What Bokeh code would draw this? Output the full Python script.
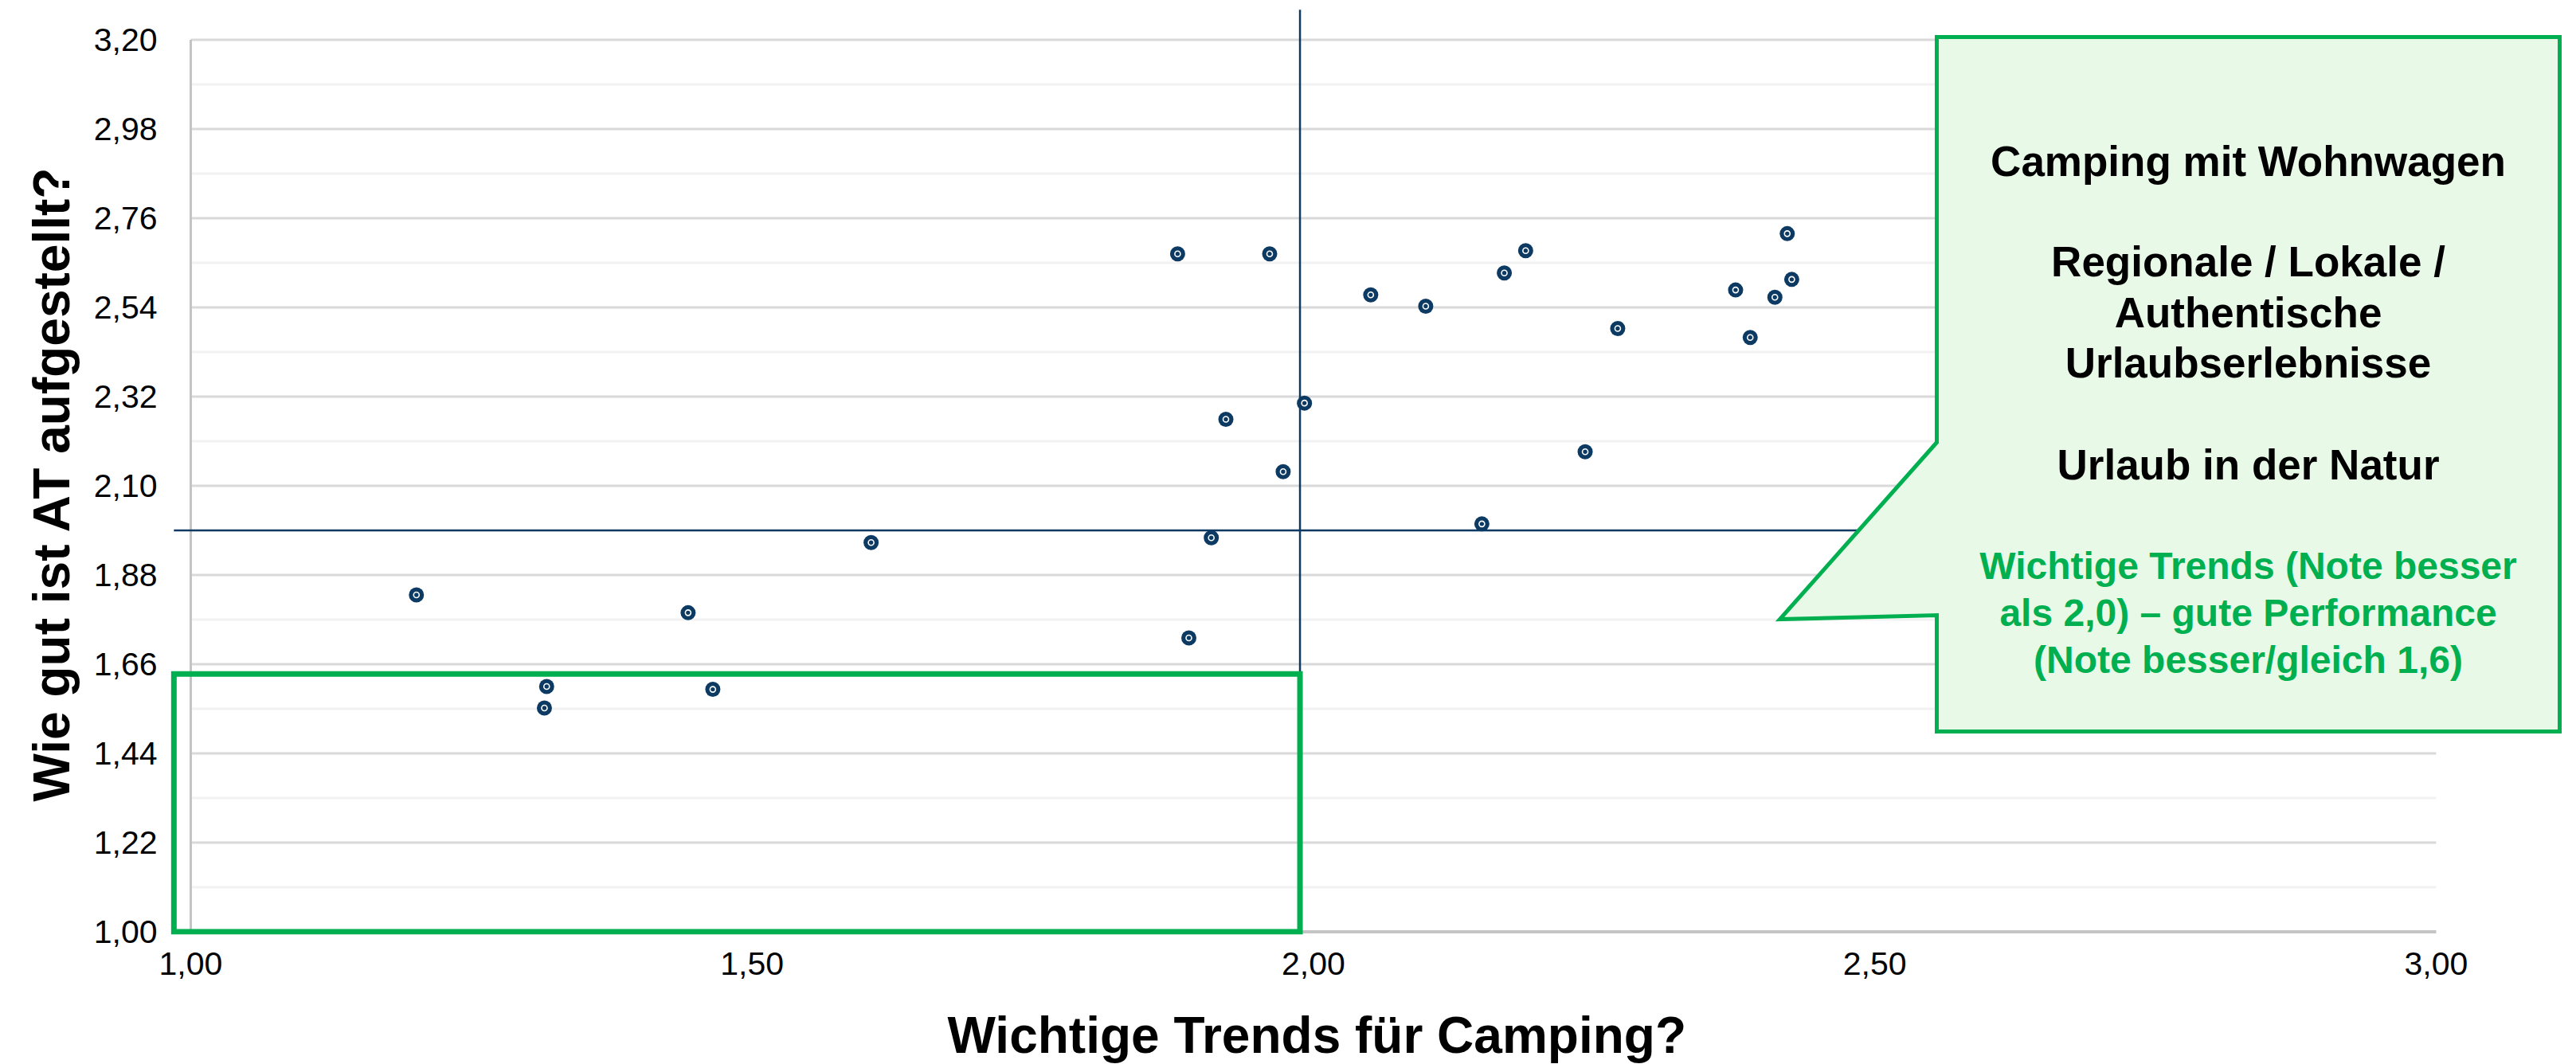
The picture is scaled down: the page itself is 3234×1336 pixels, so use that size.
from bokeh.plotting import figure
from bokeh.models import FixedTicker, CustomJSTickFormatter, Range1d, Title
from bokeh.core.properties import value
from bokeh.embed import file_html
from bokeh.resources import INLINE

# ---------------- data ----------------
trend_importance = [1.201, 1.317, 1.315, 1.443, 1.465, 1.606,
                    1.879, 1.961, 1.922, 1.992, 1.973, 1.909, 1.889,
                    2.051, 2.100, 2.170, 2.189, 2.271, 2.242, 2.150,
                    2.376, 2.389, 2.411, 2.422, 2.426]
at_performance = [1.831, 1.605, 1.552, 1.787, 1.598, 1.960,
                  2.672, 2.672, 2.264, 2.304, 2.135, 1.972, 1.725,
                  2.571, 2.543, 2.625, 2.680, 2.488, 2.184, 2.006,
                  2.583, 2.466, 2.565, 2.722, 2.609]

x_ticks = [1.00, 1.50, 2.00, 2.50, 3.00]
y_ticks = [1.00, 1.22, 1.44, 1.66, 1.88, 2.10, 2.32, 2.54, 2.76, 2.98, 3.20]
y_minor = [1.11, 1.33, 1.55, 1.77, 1.99, 2.21, 2.43, 2.65, 2.87, 3.09]

x_ref = 1.988          # vertical reference line
y_ref = 1.990          # horizontal reference line

x_title = "Wichtige Trends für Camping?"
y_title = "Wie gut ist AT aufgestellt?"

callout_black = ["Camping mit Wohnwagen", "Regionale / Lokale /", "Authentische",
                 "Urlaubserlebnisse", "Urlaub in der Natur"]
callout_green = ["Wichtige Trends (Note besser", "als 2,0) – gute Performance",
                 "(Note besser/gleich 1,6)"]

# ---------------- layout / styling ----------------
NAVY = "#0d3a63"
GREEN = "#00b050"
FONT = "Liberation Sans"

X_START, X_END = 0.9759, 3.1249
Y_START, Y_END = 0.9932, 3.2972

p = figure(width=3234, height=1336, output_backend="svg", toolbar_location=None,
           x_range=Range1d(X_START, X_END), y_range=Range1d(Y_START, Y_END),
           min_border_left=205, min_border_right=0, min_border_top=0,
           min_border_bottom=163, outline_line_color=None)
p.xgrid.visible = False
p.ygrid.visible = False

fmt = CustomJSTickFormatter(code="return tick.toFixed(2).replace('.', ',');")
for ax, ticks in ((p.xaxis[0], x_ticks), (p.yaxis[0], y_ticks)):
    ax.ticker = FixedTicker(ticks=ticks)
    ax.formatter = fmt
    ax.axis_line_color = None
    ax.major_tick_line_color = None
    ax.minor_tick_line_color = None
    ax.major_tick_out = 0
    ax.major_tick_in = 0
    ax.minor_tick_out = 0
    ax.minor_tick_in = 0
    ax.major_label_text_font = FONT
    ax.major_label_text_font_size = "41px"
    ax.major_label_text_color = "#000000"

p.xaxis.major_label_standoff = 22
p.yaxis.major_label_standoff = 8
# spacer between tick labels and the x title
p.xaxis.axis_label = " "
p.xaxis.axis_label_text_font_size = "1px"
p.xaxis.axis_label_standoff = 31

# axis titles (side titles so they can be shifted along the frame)
p.add_layout(Title(text=x_title, text_font=FONT, text_font_style="bold",
                   text_font_size="64px", text_color="#000000", align="left",
                   offset=984, standoff=0), "below")
p.add_layout(Title(text=y_title, text_font=FONT, text_font_style="bold",
                   text_font_size="64px", text_color="#000000", align="left",
                   offset=167, standoff=28), "left")

x0, x1 = x_ticks[0], x_ticks[-1]
y0, y1 = y_ticks[0], y_ticks[-1]

# minor and major gridlines
p.segment(x0=[x0] * len(y_minor), x1=[x1] * len(y_minor), y0=y_minor, y1=y_minor,
          line_color="#f2f2f2", line_width=3)
p.segment(x0=[x0] * (len(y_ticks) - 1), x1=[x1] * (len(y_ticks) - 1),
          y0=y_ticks[1:], y1=y_ticks[1:], line_color="#d9d9d9", line_width=3)
# axis lines
p.segment(x0=[x0], x1=[x0], y0=[y0], y1=[y1], line_color="#c4c4c4", line_width=3)
p.segment(x0=[x0], x1=[x1], y0=[y0], y1=[y0], line_color="#c4c4c4", line_width=4)

# reference lines
p.segment(x0=[0.985], x1=[x1], y0=[y_ref], y1=[y_ref], line_color=NAVY, line_width=2.5)
p.segment(x0=[x_ref], x1=[x_ref], y0=[y0], y1=[3.274], line_color=NAVY, line_width=2.5)

# highlight box (important trends, good performance)
p.quad(left=[0.985], right=[x_ref], bottom=[1.0], top=[1.636],
       fill_color=None, line_color=GREEN, line_width=7, line_join="miter")

# data points
p.scatter(trend_importance, at_performance, size=19, fill_color=NAVY, line_color=None)
p.scatter(trend_importance, at_performance, size=7, fill_color=NAVY,
          line_color="white", line_width=1.6)

# callout
cx = [2.5552, 3.1100, 3.1100, 2.5552, 2.5552, 2.4154, 2.5552]
cy = [3.2069, 3.2069, 1.4940, 1.4940, 1.7808, 1.7710, 2.2071]
p.patch(cx, cy, fill_color="#e8f9e8", line_color=GREEN, line_width=5, line_join="miter")

tx = 2.8326
black_y = [2.9014, 2.6530, 2.5272, 2.4035, 2.1521]
green_y = [1.9026, 1.7867, 1.6718]
p.text(x=[tx] * len(callout_black), y=black_y, text=callout_black,
       text_font=value(FONT), text_font_style="bold", text_font_size="53px",
       text_color="#000000", text_align="center", text_baseline="middle")
p.text(x=[tx] * len(callout_green), y=green_y, text=callout_green,
       text_font=value(FONT), text_font_style="bold", text_font_size="48px",
       text_color=GREEN, text_align="center", text_baseline="middle")

open("out.html", "w").write(file_html(p, INLINE))
